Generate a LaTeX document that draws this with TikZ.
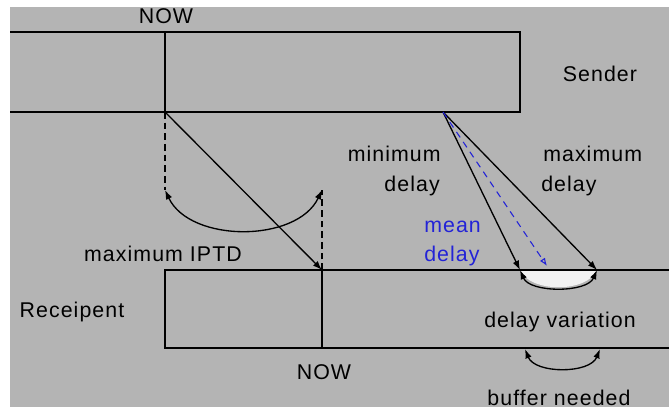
\documentclass[tikz,border=0pt]{standalone}
\usepackage{fontspec}
\setmainfont{Liberation Sans}[LetterSpace=5]
\usetikzlibrary{arrows.meta}
\definecolor{panel}{RGB}{180,180,180}
\definecolor{meanblue}{RGB}{35,35,215}
\definecolor{gapfill}{RGB}{242,242,242}
\tikzset{
  wall/.style={line width=1.5pt,draw=black},
  msg/.style={-{Latex[length=7pt,width=5pt]},line width=1pt},
  twoway/.style={{Latex[length=7pt,width=5pt]}-{Latex[length=7pt,width=5pt]},line width=1pt},
  guide/.style={dash pattern=on 5pt off 3pt,line width=1.3pt},
  meanarr/.style={-{Latex[open,length=6pt,width=4.5pt]},draw=meanblue,line width=0.8pt,
    dash pattern=on 5pt off 4pt},
  lbl/.style={font=\fontsize{16}{19}\selectfont,inner sep=0pt},
  bluelbl/.style={lbl,text=meanblue},
}
\begin{document}
\begin{tikzpicture}[x=0.75pt,y=-0.75pt]
  \useasboundingbox (0,0) rectangle (669,410);
  \fill[panel] (10,7) rectangle (669,407);
  % sender and receipent time lines
  \coordinate (stl) at (10,32);   \coordinate (str) at (520,32);
  \coordinate (sbl) at (10,112);  \coordinate (sbr) at (520,112);
  \coordinate (rtl) at (165,270); \coordinate (rtr) at (669,270);
  \coordinate (rbl) at (165,348); \coordinate (rbr) at (669,348);
  \coordinate (snowtop) at (165,32); \coordinate (snow) at (165,112);
  \coordinate (rnow) at (322,270);   \coordinate (rnowbot) at (322,348);
  \coordinate (dsrc) at (443,112);
  \coordinate (mind) at (520,270);   \coordinate (maxd) at (597,270);
  \coordinate (meand) at (547,266);
  \coordinate (iptdl) at (165,190);  \coordinate (iptdr) at (322,190);
  \coordinate (bufl) at (525,349);   \coordinate (bufr) at (600,349);
  % white gap for the delay variation
  \fill[gapfill] (mind) .. controls (530,293) and (587,293) .. (maxd) -- cycle;
  \draw[wall] (stl) -- (str) -- (sbr) -- (sbl);
  \draw[wall] (rtr) -- (rtl) -- (rbl) -- (rbr);
  \draw[wall] (snowtop) -- (snow);
  \draw[wall] (rnow) -- (rnowbot);
  % inter packet transfer delay
  \draw[guide] (snow) -- (iptdl);
  \draw[guide] (rnow) -- (iptdr);
  \draw[msg] (snow) -- (rnow);
  \draw[twoway] (iptdl) .. controls (190,243) and (297,243) .. (iptdr);
  % delays
  \draw[msg] (dsrc) -- (mind);
  \draw[msg] (dsrc) -- (maxd);
  \draw[meanarr] (dsrc) -- (meand);
  \draw[twoway] (mind) .. controls (530,293) and (587,293) .. (maxd);
  \draw[twoway] (bufl) .. controls (535,374) and (590,374) .. (bufr);
  % labels
  \node[lbl,anchor=base] (nowtop) at (166,24) {NOW};
  \node[lbl,anchor=base] (sender) at (600,82) {Sender};
  \node[lbl,anchor=base east] (minlbl) at (441,162) {minimum};
  \node[lbl,anchor=base east] (minlbl2) at (440,192) {delay};
  \node[lbl,anchor=base west] (maxlbl) at (543,162) {maximum};
  \node[lbl,anchor=base west] (maxlbl2) at (541,192) {delay};
  \node[bluelbl,anchor=base west] (meanlbl) at (424,233) {mean};
  \node[bluelbl,anchor=base west] (meanlbl2) at (424,262) {delay};
  \node[lbl,anchor=base] (iptd) at (163,262) {maximum IPTD};
  \node[lbl,anchor=base] (recv) at (72,318) {Receipent};
  \node[lbl,anchor=base] (varlbl) at (560,327) {delay variation};
  \node[lbl,anchor=base] (nowbot) at (324,379) {NOW};
  \node[lbl,anchor=base] (buflbl) at (559,405) {buffer needed};
\end{tikzpicture}
\end{document}
